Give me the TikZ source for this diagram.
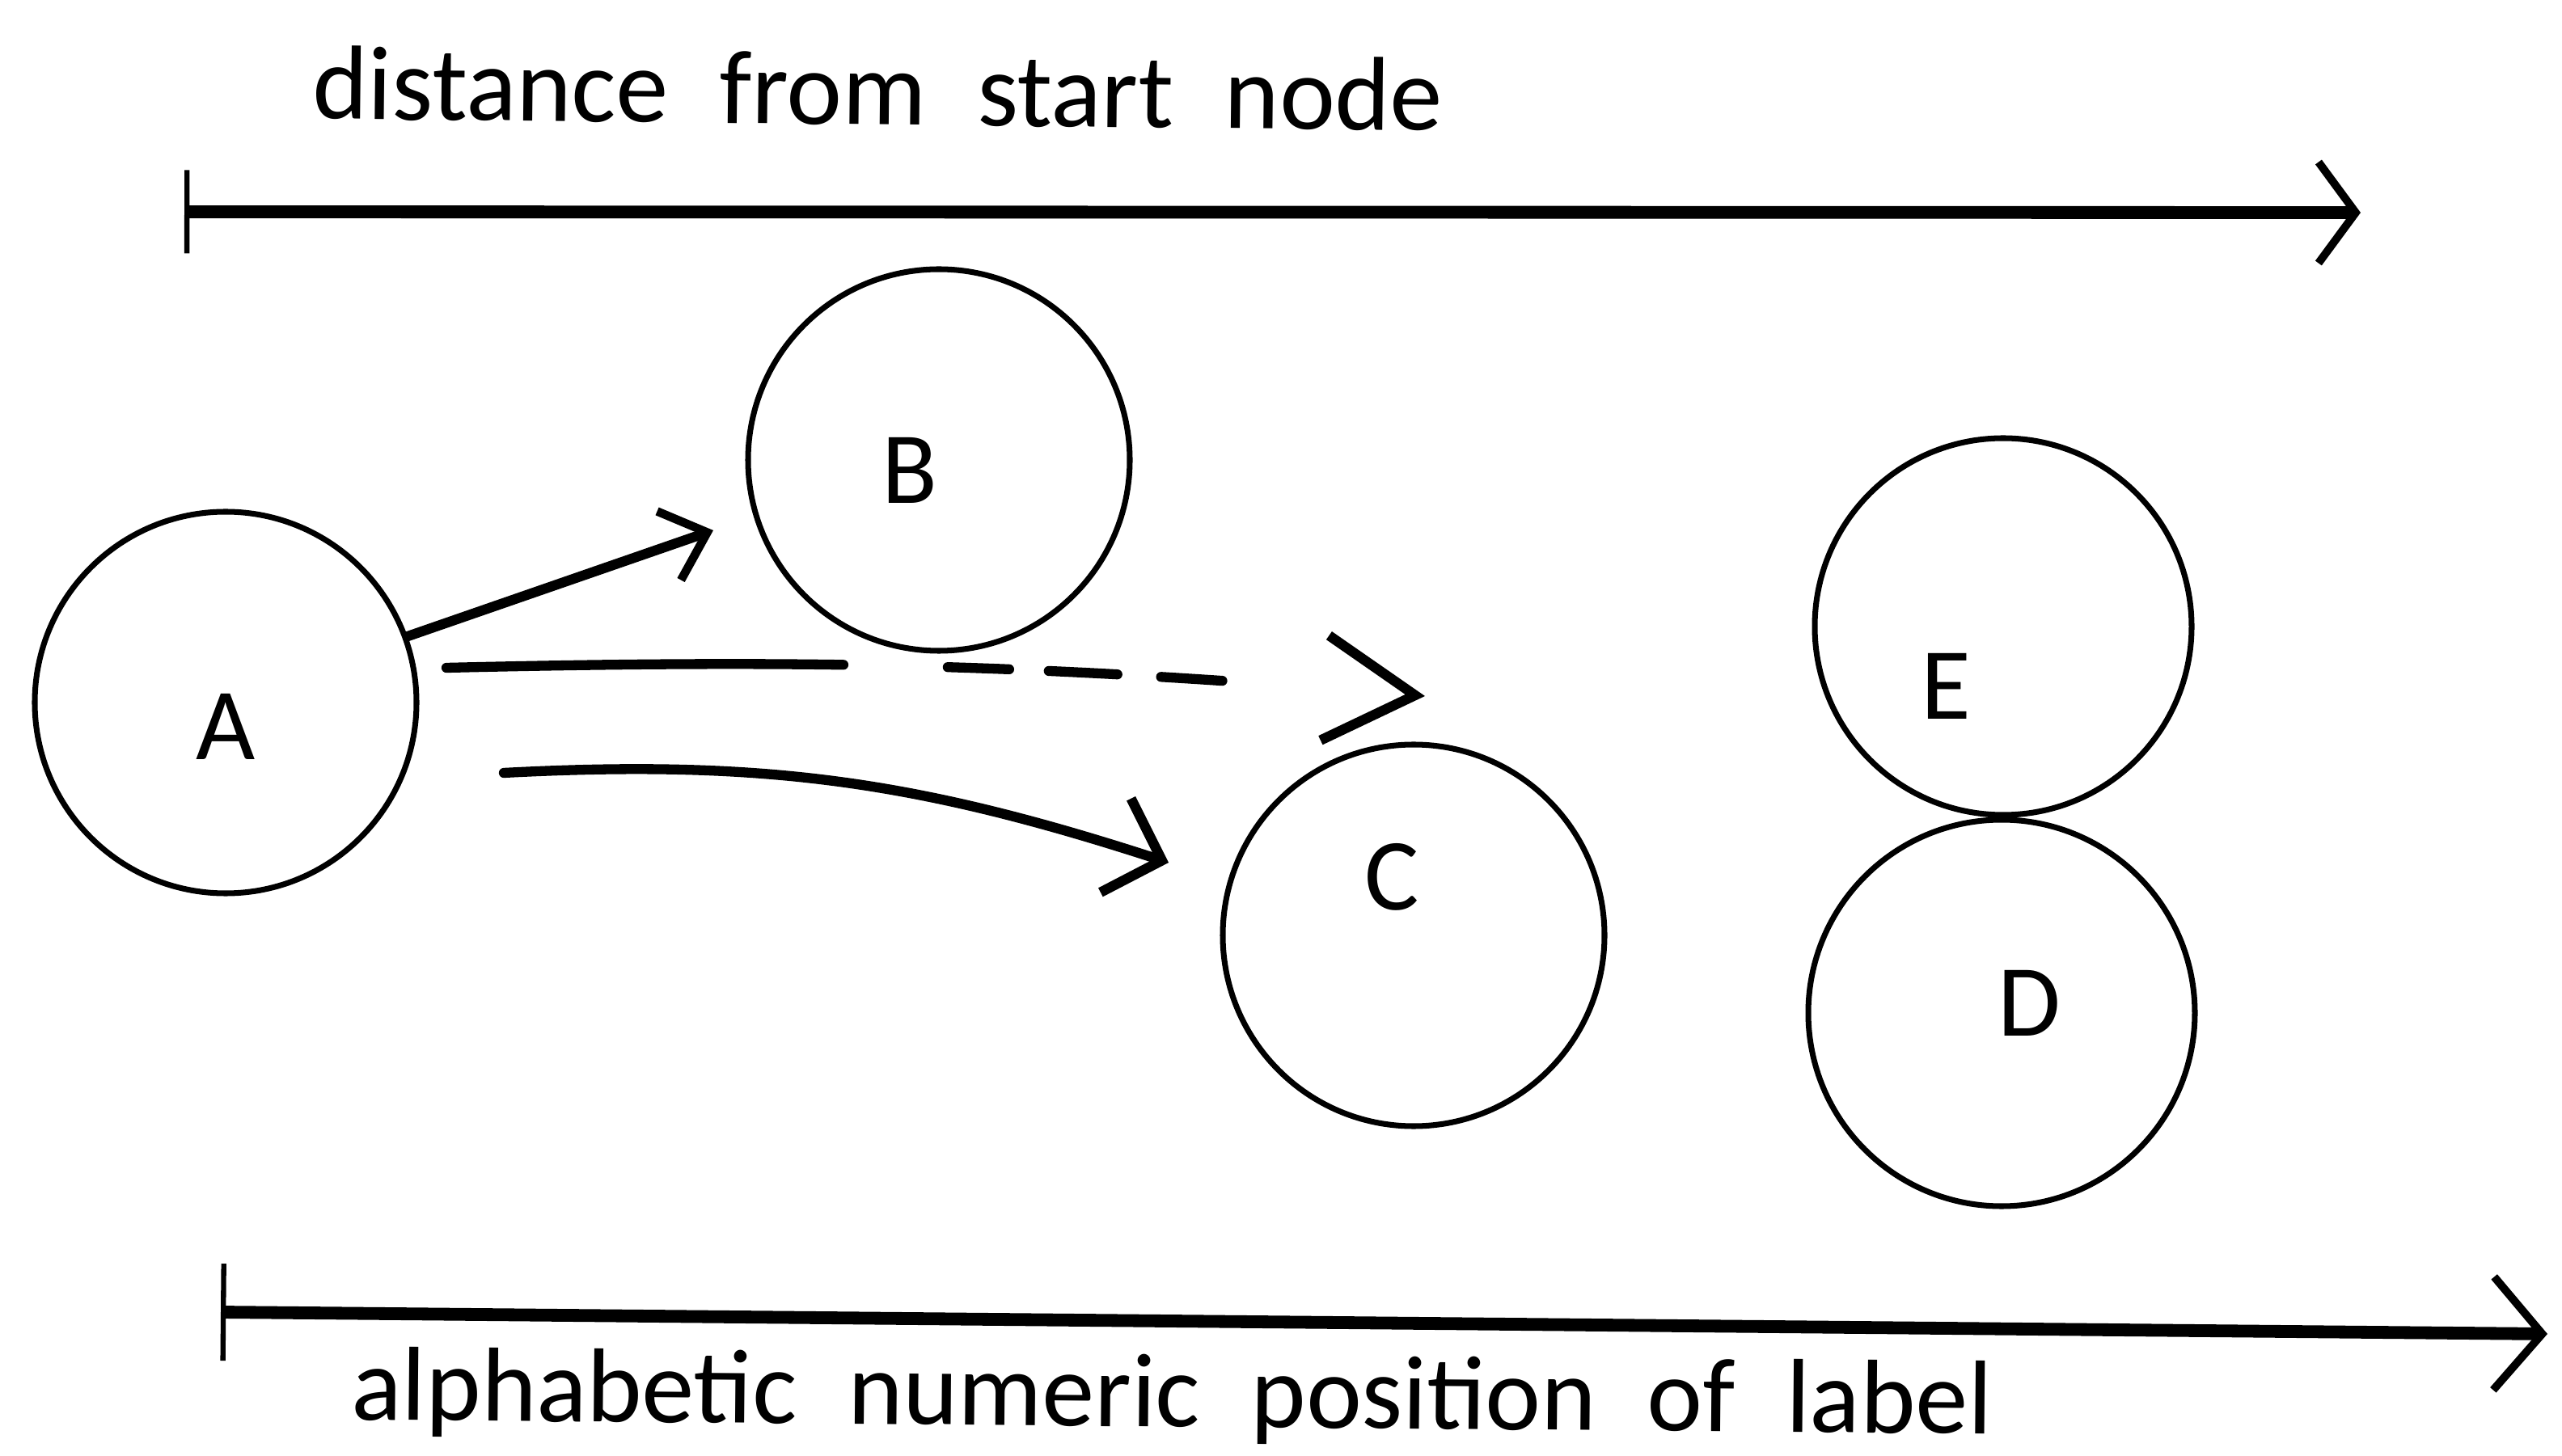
\documentclass[tikz,border=0pt]{standalone}
\usepackage{fontspec}
\setmainfont{Carlito}[WordSpace=2.15]
\usetikzlibrary{arrows.meta}
\begin{document}
\begin{tikzpicture}[
  ring/.style={circle, draw, line width=2pt, minimum size=4.72cm, inner sep=0pt},
  lab/.style={font=\fontsize{36}{40}\selectfont, inner sep=0pt},
  txt/.style={font=\fontsize{37}{44}\selectfont, inner sep=0pt},
  axis/.style={line width=4.5pt},
  conn/.style={line width=3.5pt, line cap=round},
]
\useasboundingbox (0,0) rectangle (31.68,18);
% circles
\node[ring] (A) at (2.79,9.31) {};
\node[ring] (B) at (11.61,12.31) {};
\node[ring] (C) at (17.48,6.43) {};
\node[ring, minimum size=4.66cm] (E) at (24.77,10.25) {};
\node[ring, minimum size=4.78cm] (D) at (24.75,5.47) {};
% letters
\node[lab] (lA) at (2.79,9.01) {A};
\node[lab] (lB) at (11.25,12.18) {B};
\node[lab] (lC) at (17.21,7.15) {C};
\node[lab] (lE) at (24.06,9.51) {E};
\node[lab] (lD) at (25.09,5.59) {D};
% connector ends
\coordinate (tB) at (8.82,11.44);
\coordinate (m0) at (5.52,9.74);
\coordinate (tM) at (17.62,9.39);
\coordinate (c0) at (6.23,8.44);
\coordinate (tC) at (14.45,7.33);
% connectors
\draw[conn, -{Straight Barb[length=0.5cm,width=0.9cm,line width=3pt]}] (A.20) -- (tB);
\draw[conn, dash pattern=on 4.91cm off 1.29cm on 0.76cm off 0.49cm on 0.85cm off 0.54cm on 0.76cm off 8cm,
      -{Straight Barb[length=1.12cm,width=1.3cm,line width=3.5pt]}] (m0) to[bend left=3] (tM);
\draw[conn, -{Straight Barb[length=0.6cm,width=1.22cm,line width=3.5pt]}] (c0) to[out=3, in=162] (tC);
% axes
\coordinate (t0) at (2.28,15.38);
\coordinate (t1) at (29.19,15.37);
\coordinate (b0) at (2.73,1.77);
\coordinate (b1) at (31.50,1.50);
\draw[axis, {Bar[width=1.03cm,line width=1.8pt]}-{Straight Barb[length=0.46cm,width=1.25cm,line width=2.8pt]}] (t0) -- (t1);
\draw[axis, {Bar[width=1.2cm,line width=1.8pt]}-{Straight Barb[length=0.6cm,width=1.4cm,line width=2.8pt]}] (b0) -- (b1);
% texts
\node[txt, anchor=base west, rotate=-0.6] (title) at (3.86,16.53) {distance from start node};
\node[txt, anchor=base west, rotate=-0.5] (xlab) at (4.34,0.44) {alphabetic numeric position of label};
\end{tikzpicture}
\end{document}
